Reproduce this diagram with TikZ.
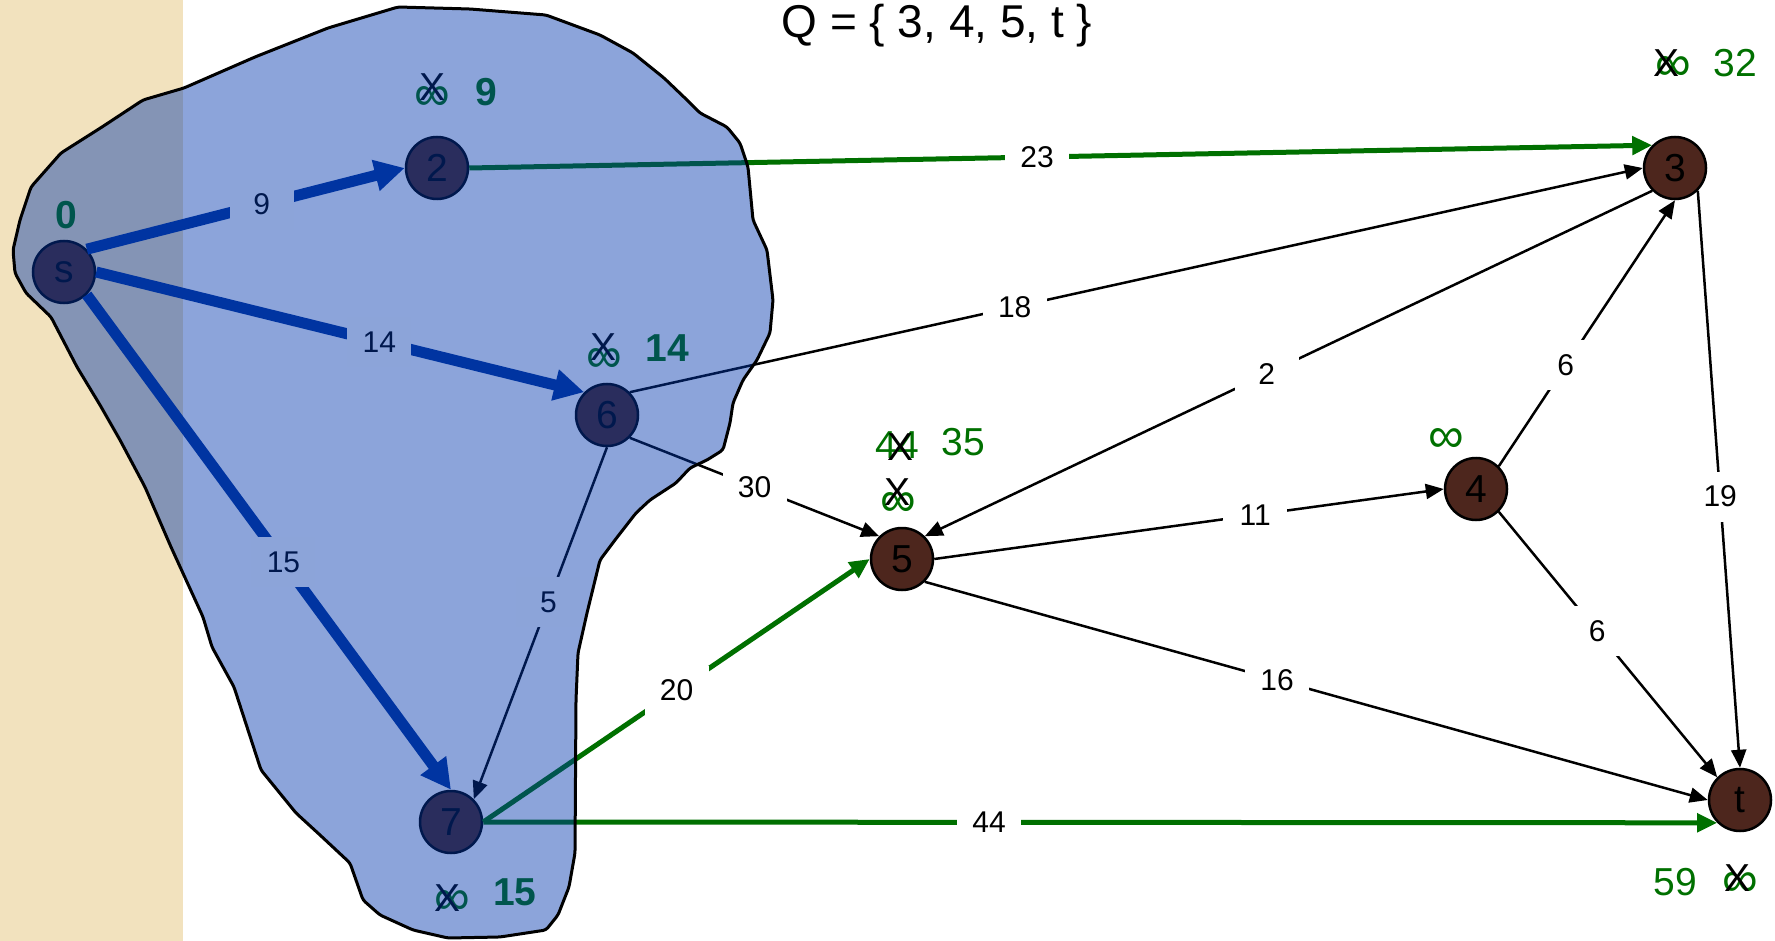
\documentclass[tikz,border=0pt]{standalone}
\usepackage{fontspec}
\setmainfont{Liberation Sans}
\usetikzlibrary{arrows.meta}
\definecolor{beige}{RGB}{242,226,190}
\definecolor{nodebrown}{RGB}{77,38,29}
\definecolor{pgreen}{RGB}{0,112,0}
\definecolor{pblue}{RGB}{0,51,153}
\definecolor{blobfill}{RGB}{0,54,172}
\begin{document}
\begin{tikzpicture}[x=1pt,y=-1pt,
 vert/.style={circle,draw=black,line width=2.5pt,fill=nodebrown,minimum size=62pt,inner sep=0pt,font=\fontsize{39}{39}\selectfont},
 elab/.style={fill=white,text=black,font=\fontsize{30}{30}\selectfont,inner sep=0pt,minimum width=64pt,minimum height=50pt},
 bedge/.style={draw=black,line width=2.5pt,-{Triangle[length=18pt,width=15pt]}},
 gedge/.style={draw=pgreen,line width=5pt,-{Triangle[length=20pt,width=18pt]}},
 uedge/.style={draw=pblue,line width=11pt,-{Triangle[length=30pt,width=30pt]}},
 dist/.style={text=pgreen,font=\fontsize{39}{39}\selectfont,inner sep=0pt},
 inf/.style={text=pgreen,font=\fontsize{50}{50}\selectfont,inner sep=0pt},
 distb/.style={text=pgreen,font=\fontsize{39}{39}\selectfont\bfseries,inner sep=0pt},
 xmark/.style={text=black,font=\fontsize{39}{39}\selectfont,inner sep=0pt},
 blob/.style={draw=black,line width=3pt,line join=round,rounded corners=3pt,fill=blobfill,fill opacity=0.45},
]
\useasboundingbox (0,0) rectangle (1775,941);
\fill[beige] (0,0) rectangle (183,941);

% vertices
\node[vert] (s)  at (64,272)   {s};
\node[vert] (n2) at (437,168)  {2};
\node[vert] (n6) at (607,415)  {6};
\node[vert] (n7) at (451,822)  {7};
\node[vert] (n5) at (902,559)  {5};
\node[vert] (n4) at (1476,489) {4};
\node[vert] (n3) at (1675,168) {3};
\node[vert] (t)  at (1740,800) {t};

% edges
\draw[uedge] (s.north east) -- node[elab,pos=.55]{9} (n2.west);
\draw[uedge] (s.east) -- node[elab,pos=.58]{14} (n6.north west);
\draw[uedge] (s.south east) -- node[elab,pos=.54]{15} (n7.north);
\draw[gedge] (n2.east) -- node[elab,pos=.48]{23} (n3.north west);
\draw[bedge] (n6.north east) -- node[elab,pos=.38]{18} (n3.west);
\draw[bedge] (n6.south east) -- node[elab,pos=.5]{30} (n5.north west);
\draw[bedge] (n6.south) -- node[elab,pos=.44]{5} (n7.north east);
\draw[bedge] (n3.south west) -- node[elab,pos=.53]{2} (n5.north east);
\draw[bedge] (n5.east) -- node[elab,pos=.63]{11} (n4.west);
\draw[bedge] (n4.north east) -- node[elab,pos=.38]{6} (n3.south);
\draw[bedge] (n3.south east) -- node[elab,pos=.53]{19} (t.north);
\draw[bedge] (n4.south east) -- node[elab,pos=.45]{6} (t.north west);
\draw[bedge] (n5.south east) -- node[elab,pos=.45]{16} (t.west);
\draw[gedge] (n7.east) -- node[elab,pos=.5]{20} (n5.west);
\draw[gedge] (n7.east) -- node[elab,pos=.41]{44} (t.south west);

% distance labels
\node[distb] (d0) at (66,215) {0};
\node[inf] (i2) at (432,99) {∞};
\node[xmark] (x2) at (433,87) {X};
\node[distb] (d2) at (486,92) {9};
\node[inf] (i6) at (604,360) {∞};
\node[xmark] (x6) at (603,347) {X};
\node[distb] (d6) at (667,348) {14};
\node[inf] (i7) at (452,902) {∞};
\node[xmark] (x7) at (448,898) {X};
\node[distb] (d7) at (515,892) {15};
\node[dist] (f5) at (897,445) {44};
\node[xmark] (xf5) at (900,447) {X};
\node[dist] (d5) at (963,442) {35};
\node[inf] (i5) at (898,504) {∞};
\node[xmark] (x5) at (897,492) {X};
\node[inf] (i4) at (1446,440) {∞};
\node[inf] (i3) at (1673,69) {∞};
\node[xmark] (x3) at (1666,63) {X};
\node[dist] (d3) at (1735,63) {32};
\node[dist] (dt) at (1675,882) {59};
\node[inf] (it) at (1740,884) {∞};
\node[xmark] (xt) at (1737,878) {X};

\node[font=\fontsize{46}{46}\selectfont,inner sep=0pt] (q) at (937,26) {Q = \{ 3, 4, 5, t \}};

% explored region
\draw[blob] (398,7) -- (470,9) -- (546,15) -- (600,35) -- (633,53) -- (664,78) -- (687,100) -- (700,113) -- (727,127) -- (740,143) -- (748,167) -- (753,220) -- (767,250) -- (773,300) -- (770,333) -- (757,360) -- (743,380) -- (733,403) -- (730,423) -- (723,450) -- (707,460) -- (690,468) -- (676,483) -- (650,500) -- (636,513) -- (615,540) -- (600,560) -- (587,613) -- (578,653) -- (576,700) -- (575,853) -- (569,887) -- (558,915) -- (546,930) -- (500,937) -- (448,938) -- (413,930) -- (380,915) -- (363,900) -- (350,863) -- (320,835) -- (296,813) -- (261,770) -- (234,687) -- (212,647) -- (203,617) -- (171,547) -- (145,487) -- (120,440) -- (100,405) -- (77,367) -- (51,317) -- (26,293) -- (15,273) -- (13,250) -- (20,220) -- (31,187) -- (61,153) -- (102,127) -- (143,100) -- (184,88) -- (255,57) -- (328,28) -- cycle;
\end{tikzpicture}
\end{document}
